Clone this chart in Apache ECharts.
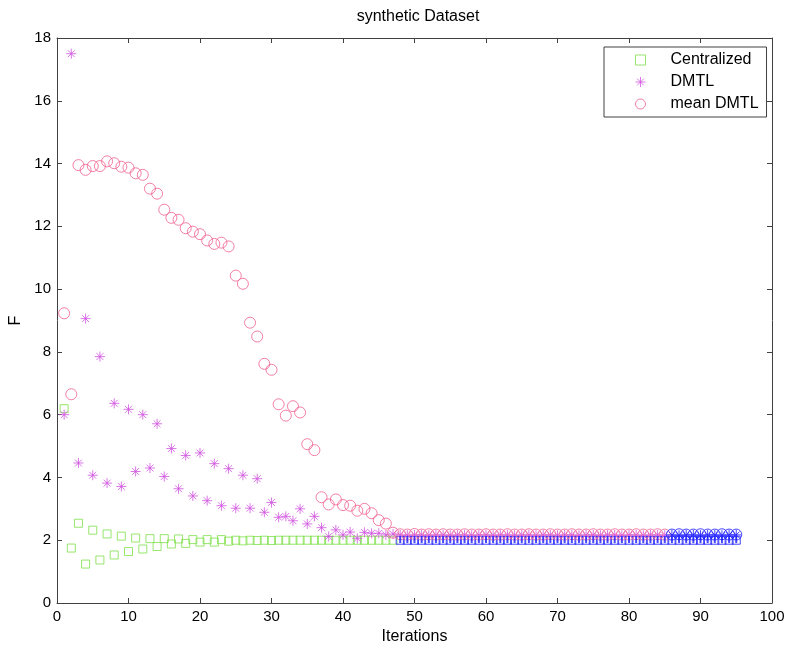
<!DOCTYPE html>
<html>
<head>
<meta charset="utf-8">
<script src="https://cdn.jsdelivr.net/npm/echarts@6/dist/echarts.min.js"></script>
<style>
html,body{margin:0;padding:0;background:#fff;}
#chart{width:787px;height:650px;}
</style>
</head>
<body>
<div id="chart"></div>
<script>
const xTicks = [0,10,20,30,40,50,60,70,80,90,100];
const yTicks = [0,2,4,6,8,10,12,14,16,18];

const iterations = [1,2,3,4,5,6,7,8,9,10,11,12,13,14,15,16,17,18,19,20,21,22,23,24,25,26,27,28,29,30,31,32,33,34,35,36,37,38,39,40,41,42,43,44,45,46,47,48,49,50,51,52,53,54,55,56,57,58,59,60,61,62,63,64,65,66,67,68,69,70,71,72,73,74,75,76,77,78,79,80,81,82,83,84,85,86,87,88,89,90,91,92,93,94,95];

// Centralized, iterations 1..47 (green)
const centralized = [6.19,1.75,2.54,1.24,2.32,1.37,2.20,1.53,2.13,1.64,
  2.07,1.72,2.05,1.80,2.05,1.88,2.04,1.90,2.02,1.94,
  2.02,1.94,2.02,1.97,2.00,1.98,2.00,1.99,2.00,1.99,
  2.00,2.00,2.00,2.00,2.00,2.00,2.00,2.00,2.00,2.00,2.00,2.00,2.00,2.00,2.00,2.00,2.00];
// blue squares, iterations 48..95
const blueSquares = [2.00,2.00,2.00,2.00,2.00,2.00,2.00,2.00,2.00,2.00,2.00,2.00,
  2.00,2.00,2.00,2.00,2.00,2.00,2.00,2.00,2.00,2.00,2.00,2.00,
  2.00,2.00,2.00,2.00,2.00,2.00,2.00,2.00,2.00,2.00,2.00,2.00,
  2.00,2.00,2.00,2.00,2.00,2.00,2.00,2.00,2.00,2.00,2.00,2.00];
// blue vertical marks, iterations 48..95
const blueBars = [2.02,2.02,2.02,2.02,2.02,2.02,2.02,2.02,2.02,2.02,2.02,2.02,
  2.02,2.02,2.02,2.02,2.02,2.02,2.02,2.02,2.02,2.02,2.02,2.02,
  2.02,2.02,2.02,2.02,2.02,2.02,2.02,2.02,2.02,2.02,2.02,2.02,
  2.02,2.02,2.02,2.02,2.02,2.02,2.02,2.02,2.02,2.02,2.02,2.02];
// DMTL, iterations 1..85 (magenta)
const dmtl = [6.00,17.50,4.46,9.06,4.07,7.85,3.82,6.36,3.71,6.17,
  4.19,6.00,4.30,5.71,4.03,4.92,3.64,4.70,3.41,4.78,
  3.26,4.44,3.10,4.28,3.02,4.07,3.02,3.96,2.89,3.20,
  2.73,2.76,2.62,3.00,2.52,2.76,2.40,2.12,2.33,2.17,
  2.26,2.06,2.25,2.22,2.22,2.17,2.20,2.17,2.16,2.17,
  2.17,2.16,2.17,2.17,2.16,2.17,2.17,2.16,2.17,2.17,
  2.16,2.17,2.17,2.16,2.17,2.17,2.16,2.17,2.17,2.16,
  2.17,2.17,2.16,2.17,2.17,2.16,2.17,2.17,2.16,2.17,
  2.17,2.16,2.17,2.17,2.16];
// DMTL blue, iterations 86..95
const dmtlBlue = [2.17,2.16,2.17,2.17,2.16,2.17,2.17,2.16,2.17,2.17];
// mean DMTL, iterations 1..85 (pink)
const meanDmtl = [9.23,6.65,13.95,13.80,13.92,13.92,14.07,14.01,13.90,13.87,
  13.69,13.64,13.20,13.04,12.53,12.27,12.21,11.94,11.83,11.75,
  11.55,11.44,11.48,11.36,10.43,10.17,8.93,8.49,7.62,7.43,
  6.33,5.97,6.27,6.07,5.06,4.87,3.37,3.14,3.30,3.12,
  3.10,2.94,3.00,2.86,2.64,2.53,2.24,2.19,2.18,2.20,
  2.18,2.19,2.18,2.19,2.18,2.18,2.19,2.18,2.18,2.19,
  2.18,2.18,2.19,2.18,2.18,2.19,2.18,2.18,2.19,2.18,
  2.18,2.19,2.18,2.18,2.19,2.18,2.18,2.19,2.18,2.18,
  2.19,2.18,2.18,2.19,2.18];
// mean DMTL blue, iterations 86..95
const meanBlue = [2.18,2.19,2.18,2.18,2.19,2.18,2.18,2.19,2.18,2.18];

function pairs(startIter, vals){
  const i0 = iterations.indexOf(startIter);
  return vals.map((v,k)=>[iterations[i0+k], v]);
}

const GREEN = '#7ee04a', MAG = '#d154e0', PINK = '#f0608e', BLUE = '#1a1aff';
const STAR = 'path://M5,0L5,10M0,5L10,5M1.6,1.6L8.4,8.4M8.4,1.6L1.6,8.4';
const FONT = 'Liberation Sans, Arial, sans-serif';

const chart = echarts.init(document.getElementById('chart'), null, {renderer:'canvas'});
const axisLine = {show:true, onZero:false, lineStyle:{color:'#404040', width:1}};
const tick = {show:true, inside:true, length:5, lineStyle:{color:'#404040'}};
chart.setOption({
  animation:false,
  backgroundColor:'#fff',
  title:{text:'synthetic Dataset', left:413, top:4, textAlign:'center',
    textStyle:{fontFamily:FONT, fontSize:16, fontWeight:'normal', color:'#000'}},
  grid:{left:57, top:38, right:15, bottom:47, containLabel:false, outerBoundsMode:'none'},
  legend:{
    orient:'vertical', left:604, top:47,
    padding:[5,8,5,31], itemGap:6,
    backgroundColor:'#fff', borderColor:'#404040', borderWidth:1, borderRadius:0,
    itemWidth:10, itemHeight:10,
    textStyle:{fontFamily:FONT, fontSize:16, color:'#000', padding:[0,0,0,20]},
    data:[
      {name:'Centralized', icon:'rect', itemStyle:{color:'transparent', borderColor:GREEN, borderWidth:1}},
      {name:'DMTL', icon:STAR, itemStyle:{color:'transparent', borderColor:MAG, borderWidth:1}},
      {name:'mean DMTL', icon:'circle', itemStyle:{color:'transparent', borderColor:PINK, borderWidth:1}}
    ]
  },
  xAxis:[
    {type:'value', min:0, max:100, interval:10, position:'bottom',
      name:'Iterations', nameLocation:'middle', nameGap:25,
      nameTextStyle:{fontFamily:FONT, fontSize:16, color:'#000'},
      axisLine, axisTick:tick,
      axisLabel:{fontFamily:FONT, fontSize:15, color:'#000', margin:6},
      splitLine:{show:false}},
    {type:'value', min:0, max:100, interval:10, position:'top',
      axisLine, axisTick:tick,
      axisLabel:{show:false}, splitLine:{show:false}}
  ],
  yAxis:[
    {type:'value', min:0, max:18, interval:2, position:'left',
      name:'F', nameLocation:'middle', nameGap:33, nameRotate:90,
      nameTextStyle:{fontFamily:FONT, fontSize:16, color:'#000'},
      axisLine, axisTick:tick,
      axisLabel:{fontFamily:FONT, fontSize:15, color:'#000', margin:6},
      splitLine:{show:false}},
    {type:'value', min:0, max:18, interval:2, position:'right',
      axisLine, axisTick:tick,
      axisLabel:{show:false}, splitLine:{show:false}}
  ],
  series:[
    {name:'Centralized', type:'scatter', symbol:'rect', symbolSize:8,
      itemStyle:{color:'transparent', borderColor:GREEN, borderWidth:1},
      data:pairs(1, centralized), z:2},
    {name:'blueSquares', type:'scatter', symbol:'rect', symbolSize:8,
      itemStyle:{color:'transparent', borderColor:BLUE, borderWidth:1},
      data:pairs(48, blueSquares), z:2},
    {name:'DMTL', type:'scatter', symbol:STAR, symbolSize:10, symbolKeepAspect:true,
      itemStyle:{color:'transparent', borderColor:MAG, borderWidth:1},
      data:pairs(1, dmtl), z:3},
    {name:'mean DMTL', type:'scatter', symbol:'circle', symbolSize:11,
      itemStyle:{color:'transparent', borderColor:PINK, borderWidth:1},
      data:pairs(1, meanDmtl), z:4},
    {name:'dmtlBlue', type:'scatter', symbol:STAR, symbolSize:10, symbolKeepAspect:true,
      itemStyle:{color:'transparent', borderColor:BLUE, borderWidth:1},
      data:pairs(86, dmtlBlue), z:5},
    {name:'meanBlue', type:'scatter', symbol:'circle', symbolSize:11,
      itemStyle:{color:'transparent', borderColor:BLUE, borderWidth:1},
      data:pairs(86, meanBlue), z:5},
    {name:'blueBars', type:'scatter', symbol:'rect', symbolSize:[2,7],
      itemStyle:{color:BLUE},
      data:pairs(48, blueBars), z:6}
  ]
});
</script>
</body>
</html>
